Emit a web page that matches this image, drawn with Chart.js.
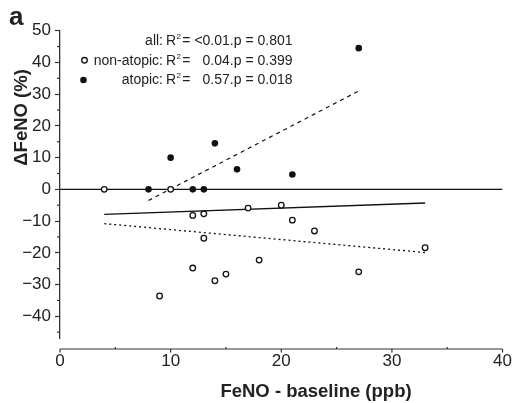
<!DOCTYPE html>
<html>
<head>
<meta charset="utf-8">
<script src="https://cdn.jsdelivr.net/npm/chart.js@4.4.1/dist/chart.umd.min.js"></script>
<style>
html,body{margin:0;padding:0;background:#fff;}
#wrap{width:515px;height:403px;position:relative;}
</style>
</head>
<body>
<div id="wrap"><canvas id="c" width="515" height="403"></canvas></div>
<script>
// ---- data ----
const atopicX = [8, 10, 12, 13, 14, 16, 21, 27];
const atopicY = [0, 10, 0, 0, 14.5, 6.3, 4.7, 44.5];
const nonAtopicX = [4, 10, 12, 13, 17, 20, 21, 23, 13, 33, 18, 12, 27, 15, 14, 9];
const nonAtopicY = [0, 0, -8.2, -7.7, -5.9, -5.0, -9.7, -13.1, -15.4, -18.4, -22.3, -24.8, -26.0, -26.7, -28.8, -33.6];
const allFitX = [4, 33];
const allFitY = [-7.9, -4.3];
const nonAtopicFitX = [4, 33];
const nonAtopicFitY = [-10.8, -19.9];
const atopicFitX = [8, 27];
const atopicFitY = [-3.5, 31.0];
const zeroLineX = [0, 40];
const zeroLineY = [0, 0];
const xTicks = [0, 10, 20, 30, 40];
const xMinorTicks = [5, 15, 25, 35];
const yTicks = [-40, -30, -20, -10, 0, 10, 20, 30, 40, 50];
const yMinorTicks = [-45, -35, -25, -15, -5, 5, 15, 25, 35, 45];
const legendLabels = ['all:', 'non-atopic:', 'atopic:'];
const legendValues = ['<0.01.p = 0.801', '0.04.p = 0.399', '0.57.p = 0.018'];
const xTitle = 'FeNO - baseline (ppb)';
const yTitle = '\u0394FeNO (%)';
const panelLabel = 'a';

const FONT = "'Liberation Sans', Arial, Helvetica, sans-serif";
const INK = '#222';
const AXIS = '#333';

const pts = (xs, ys) => xs.map((x, i) => ({x: x, y: ys[i]}));

const decor = {
  id: 'decor',
  afterDraw(chart) {
    const ctx = chart.ctx;
    const xs = chart.scales.x, ys = chart.scales.y;
    const ca = chart.chartArea;
    ctx.save();
    // y minor ticks
    ctx.strokeStyle = AXIS; ctx.lineWidth = 1.2;
    yMinorTicks.forEach(v => {
      const py = ys.getPixelForValue(v);
      ctx.beginPath(); ctx.moveTo(ca.left - 3, py); ctx.lineTo(ca.left, py); ctx.stroke();
    });
    // detached x axis
    const axY = ca.bottom + 10.5;
    ctx.beginPath(); ctx.moveTo(xs.getPixelForValue(0), axY); ctx.lineTo(xs.getPixelForValue(40), axY); ctx.stroke();
    xTicks.forEach(v => {
      const px = xs.getPixelForValue(v);
      ctx.beginPath(); ctx.moveTo(px, axY); ctx.lineTo(px, axY + 3.5); ctx.stroke();
    });
    xMinorTicks.forEach(v => {
      const px = xs.getPixelForValue(v);
      ctx.beginPath(); ctx.moveTo(px, axY); ctx.lineTo(px, axY - 2); ctx.stroke();
    });
    // titles
    ctx.fillStyle = INK;
    ctx.font = "bold 18.5px " + FONT;
    ctx.textAlign = 'center'; ctx.textBaseline = 'alphabetic';
    ctx.fillText(xTitle, 316, 397);
    ctx.save();
    ctx.translate(27, 117.4);
    ctx.rotate(-Math.PI / 2);
    ctx.fillText(yTitle, 0, 0);
    ctx.restore();
    ctx.font = "bold 26px " + FONT;
    ctx.textAlign = 'left';
    ctx.fillText(panelLabel, 9, 25);
    // legend
    const base = [44.5, 64.5, 84];
    legendLabels.forEach((lab, i) => {
      const by = base[i];
      ctx.font = "14px " + FONT;
      ctx.textAlign = 'right';
      ctx.fillText(lab, 163, by);
      ctx.textAlign = 'left';
      ctx.fillText('R', 166, by);
      const rw = ctx.measureText('R').width;
      ctx.font = "8px " + FONT;
      ctx.fillText('2', 166 + rw + 0.3, by - 6);
      ctx.font = "14px " + FONT;
      ctx.fillText('=', 182.3, by);
      ctx.textAlign = 'right';
      ctx.fillText(legendValues[i], 292.5, by);
    });
    // legend markers
    ctx.lineWidth = 1.3;
    ctx.strokeStyle = '#111'; ctx.fillStyle = '#fff';
    ctx.beginPath(); ctx.arc(84.5, 60.3, 2.8, 0, Math.PI * 2); ctx.fill(); ctx.stroke();
    ctx.fillStyle = '#111';
    ctx.beginPath(); ctx.arc(83.5, 80, 3.3, 0, Math.PI * 2); ctx.fill();
    ctx.restore();
  }
};

new Chart(document.getElementById('c'), {
  type: 'scatter',
  data: {
    datasets: [
      {type: 'line', data: pts(zeroLineX, zeroLineY), borderColor: '#111', borderWidth: 1.3, pointRadius: 0, fill: false, order: 10},
      {type: 'line', data: pts(allFitX, allFitY), borderColor: '#111', borderWidth: 1.3, pointRadius: 0, fill: false, order: 9},
      {type: 'line', data: pts(nonAtopicFitX, nonAtopicFitY), borderColor: '#111', borderWidth: 1.3, borderDash: [2, 3], pointRadius: 0, fill: false, order: 8},
      {type: 'line', data: pts(atopicFitX, atopicFitY), borderColor: '#111', borderWidth: 1.2, borderDash: [4, 4], pointRadius: 0, fill: false, order: 7},
      {label: 'non-atopic', data: pts(nonAtopicX, nonAtopicY), pointRadius: 2.8, pointBorderWidth: 1.3, pointBorderColor: '#111', pointBackgroundColor: '#fff', order: 2},
      {label: 'atopic', data: pts(atopicX, atopicY), pointRadius: 3.3, pointBorderWidth: 0, pointBorderColor: '#111', pointBackgroundColor: '#111', order: 1}
    ]
  },
  options: {
    responsive: false,
    animation: false,
    events: [],
    layout: {padding: {top: 30.7, right: 11, left: 0, bottom: 0}},
    plugins: {legend: {display: false}, tooltip: {enabled: false}},
    scales: {
      x: {
        type: 'linear', min: 0, max: 40,
        afterBuildTicks: s => { s.ticks = xTicks.map(v => ({value: v})); },
        afterFit: s => { s.height = 64.5; },
        border: {display: false},
        grid: {display: true, drawOnChartArea: false, drawTicks: true, tickLength: 10, color: 'rgba(0,0,0,0)', tickColor: 'rgba(0,0,0,0)'},
        ticks: {padding: 3, color: INK, font: {family: FONT, size: 17}, maxRotation: 0}
      },
      y: {
        type: 'linear', min: -47, max: 50,
        afterBuildTicks: s => { s.ticks = yTicks.map(v => ({value: v})); },
        afterFit: s => { s.width = 60; },
        border: {display: true, color: AXIS, width: 1.3},
        grid: {display: true, drawOnChartArea: false, drawTicks: true, tickLength: 5, color: AXIS, tickColor: AXIS, tickWidth: 1.2},
        ticks: {padding: 4, color: INK, font: {family: FONT, size: 17},
          callback: v => (v < 0 ? '\u2212' + Math.abs(v) : String(v))}
      }
    }
  },
  plugins: [decor]
});
</script>
</body>
</html>
